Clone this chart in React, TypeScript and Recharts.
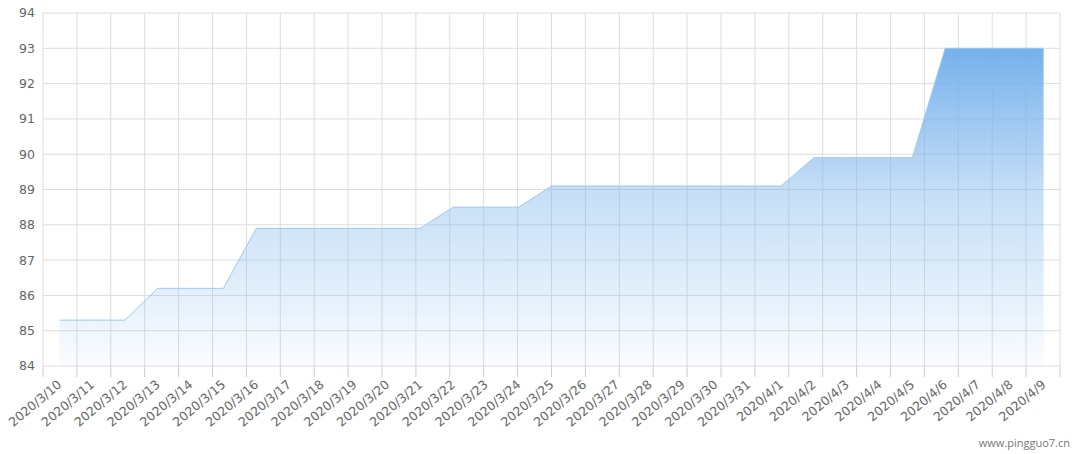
import { AreaChart, Area, XAxis, YAxis, CartesianGrid } from "recharts";

const dates = [
  "2020/3/10", "2020/3/11", "2020/3/12", "2020/3/13", "2020/3/14", "2020/3/15",
  "2020/3/16", "2020/3/17", "2020/3/18", "2020/3/19", "2020/3/20", "2020/3/21",
  "2020/3/22", "2020/3/23", "2020/3/24", "2020/3/25", "2020/3/26", "2020/3/27",
  "2020/3/28", "2020/3/29", "2020/3/30", "2020/3/31", "2020/4/1", "2020/4/2",
  "2020/4/3", "2020/4/4", "2020/4/5", "2020/4/6", "2020/4/7", "2020/4/8", "2020/4/9",
];

const prices = [
  85.3, 85.3, 85.3, 86.2, 86.2, 86.2,
  87.9, 87.9, 87.9, 87.9, 87.9, 87.9,
  88.5, 88.5, 88.5, 89.1, 89.1, 89.1,
  89.1, 89.1, 89.1, 89.1, 89.1, 89.9,
  89.9, 89.9, 89.9, 93.0, 93.0, 93.0, 93.0,
];

const yTicks = [84, 85, 86, 87, 88, 89, 90, 91, 92, 93, 94];

const data = dates.map((date, i) => ({ date, price: prices[i] }));
// boundaries between the day bands, used for the vertical grid and tick marks
const bandEdges = dates.map((_, i) => i).concat(dates.length);

const FONT = "'DejaVu Sans', sans-serif";

function DateTick({ x, y, payload }: any) {
  const tx = x + 3;
  const ty = y + 1;
  return (
    <text
      x={tx}
      y={ty}
      transform={`rotate(-40, ${tx}, ${ty})`}
      textAnchor="end"
      fill="#666"
      fontSize={12.5}
      fontFamily={FONT}
    >
      {payload.value}
    </text>
  );
}

export default function App() {
  return (
    <div style={{ position: "absolute", left: 0, top: 0, width: 1079, height: 454, background: "#fff" }}>
      <AreaChart
        width={1079}
        height={454}
        data={data}
        margin={{ top: 13, right: 19, left: 0, bottom: 0 }}
      >
        <defs>
          <linearGradient id="priceFill" x1="0" y1="0" x2="0" y2="1">
            <stop offset="0%" stopColor="#76b1eb" stopOpacity={1} />
            <stop offset="45%" stopColor="#76b1eb" stopOpacity={0.42} />
            <stop offset="80%" stopColor="#76b1eb" stopOpacity={0.18} />
            <stop offset="100%" stopColor="#76b1eb" stopOpacity={0.03} />
          </linearGradient>
        </defs>
        <XAxis
          xAxisId="a-edges"
          type="number"
          domain={[0, dates.length]}
          ticks={bandEdges}
          interval={0}
          tick={() => null}
          tickSize={11}
          axisLine={false}
          stroke="#ccc"
          height={11}
        />
        <XAxis
          xAxisId="b-days"
          dataKey="date"
          scale="band"
          interval={0}
          tick={<DateTick />}
          tickLine={false}
          axisLine={false}
          height={77}
        />
        <YAxis
          domain={[84, 94]}
          ticks={yTicks}
          axisLine={false}
          tickLine={false}
          width={43}
          tick={{ fill: "#666", fontSize: 12.5, fontFamily: FONT }}
        />
        <CartesianGrid xAxisId="a-edges" stroke="#ddd" />
        <Area
          xAxisId="b-days"
          type="linear"
          dataKey="price"
          stroke="#9fc8ee"
          strokeWidth={1}
          fill="url(#priceFill)"
          fillOpacity={1}
          dot={false}
          activeDot={false}
          isAnimationActive={false}
        />
      </AreaChart>
      <div
        style={{
          position: "absolute",
          right: 9,
          top: 435,
          fontSize: 11,
          color: "#777",
          fontFamily: "'Open Sans', sans-serif",
        }}
      >
        www.pingguo7.cn
      </div>
    </div>
  );
}
